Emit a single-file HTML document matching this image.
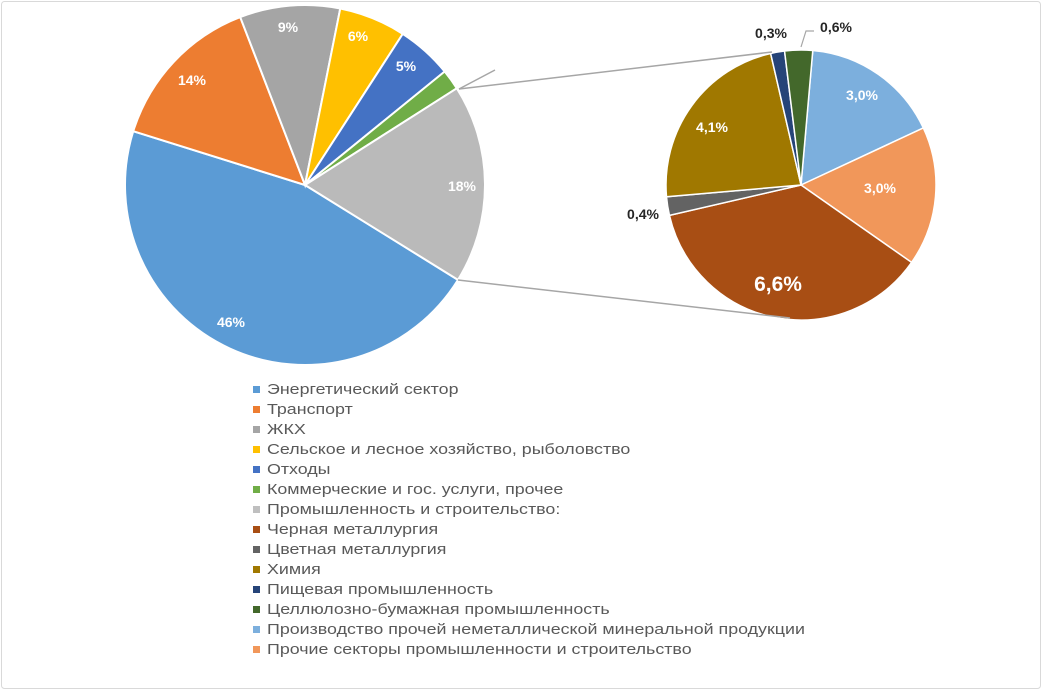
<!DOCTYPE html>
<html><head><meta charset="utf-8"><style>
body{margin:0;background:#fff;}
svg{display:block;font-family:"Liberation Sans",Calibri,sans-serif;}
.w{fill:#fff;font-weight:bold;font-size:14px;text-anchor:middle;}
.b{fill:#262626;font-weight:bold;font-size:14px;text-anchor:middle;}
.lg{fill:#595959;font-size:15px;}
</style></head><body>
<svg id="s" width="1042" height="690" viewBox="0 0 1042 690">
<rect x="1.5" y="1.5" width="1039" height="687" fill="#fff" stroke="#d9d9d9" rx="3"/>
<g id="p"></g>
<line x1="459" y1="89" x2="772" y2="52" stroke="#a6a6a6" stroke-width="1.5"/>
<line x1="459" y1="89" x2="495" y2="70" stroke="#a6a6a6" stroke-width="1.5"/>
<line x1="458" y1="280" x2="790" y2="318" stroke="#a6a6a6" stroke-width="1.5"/>
<polyline points="801,47 806,31 814,31" fill="none" stroke="#a6a6a6" stroke-width="1.2"/>
<text class="w" x="231" y="327">46%</text>
<text class="w" x="192" y="85">14%</text>
<text class="w" x="288" y="32">9%</text>
<text class="w" x="358" y="41">6%</text>
<text class="w" x="406" y="71">5%</text>
<text class="w" x="462" y="191">18%</text>
<text class="w" x="862" y="100">3,0%</text>
<text class="w" x="880" y="193">3,0%</text>
<text class="w" x="778" y="291" style="font-size:21px">6,6%</text>
<text class="b" x="643" y="219">0,4%</text>
<text class="w" x="712" y="132">4,1%</text>
<text class="b" x="771" y="38">0,3%</text>
<text class="b" x="836" y="32">0,6%</text>
<g id="lg"></g>
</svg>
<script>
function arc(cx,cy,r,a0,a1,col,sw){var t=Math.PI/180;
var x0=cx+r*Math.cos(a0*t),y0=cy+r*Math.sin(a0*t),x1=cx+r*Math.cos(a1*t),y1=cy+r*Math.sin(a1*t);
return '<path d="M'+cx+','+cy+'L'+x0.toFixed(2)+','+y0.toFixed(2)+'A'+r+','+r+' 0 '+((a1-a0)>180?1:0)+' 1 '+x1.toFixed(2)+','+y1.toFixed(2)+'Z" fill="'+col+'" stroke="#fff" stroke-width="'+sw+'"/>';}
var h='';
var L=[[31.8,197.4,'#5b9bd5'],[197.4,248.9,'#ed7d31'],[248.9,281.3,'#a5a5a5'],[281.3,302.9,'#ffc000'],[302.9,320.9,'#4472c4'],[320.9,327.5,'#70ad47'],[327.5,391.8,'#bababa']];
L.forEach(function(s){h+=arc(305,185,180,s[0],s[1],s[2],2);});
var R=[[-85,-25,'#7cafdd'],[-25,35,'#f1975a'],[35,167,'#a84e14'],[167,175,'#636363'],[175,257,'#a07800'],[257,263,'#264478'],[263,275,'#43682b']];
R.forEach(function(s){h+=arc(801,185,135,s[0],s[1],s[2],1.5);});
document.getElementById('p').innerHTML=h;
var items=[['#5b9bd5','Энергетический сектор'],['#ed7d31','Транспорт'],['#a5a5a5','ЖКХ'],['#ffc000','Сельское и лесное хозяйство, рыболовство'],['#4472c4','Отходы'],['#70ad47','Коммерческие и гос. услуги, прочее'],['#bfbfbf','Промышленность и строительство:'],['#a84e14','Черная металлургия'],['#636363','Цветная металлургия'],['#a07800','Химия'],['#264478','Пищевая промышленность'],['#43682b','Целлюлозно-бумажная промышленность'],['#7cafdd','Производство прочей неметаллической минеральной продукции'],['#f1975a','Прочие секторы промышленности и строительство']];
var g='';items.forEach(function(it,i){var y=389+i*20;
g+='<rect x="253" y="'+(y-3)+'" width="7" height="7" fill="'+it[0]+'"/><text class="lg" transform="translate(267,0) scale(1.19,1)" x="0" y="'+(y+5)+'">'+it[1]+'</text>';});
document.getElementById('lg').innerHTML=g;
</script>
</body></html>
